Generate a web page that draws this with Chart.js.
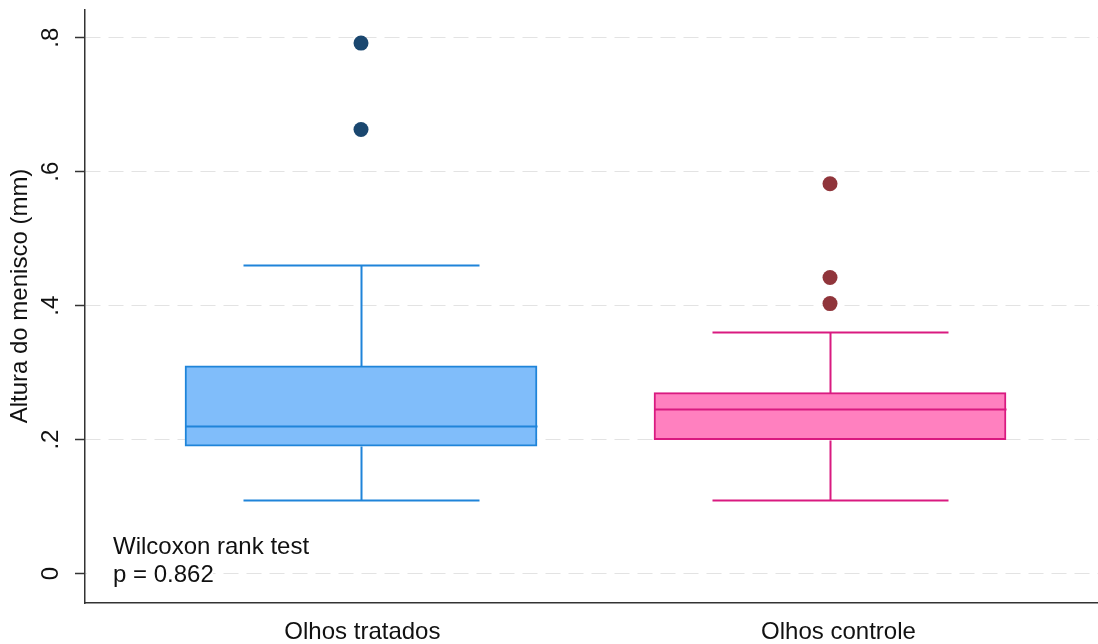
<!DOCTYPE html>
<html>
<head>
<meta charset="utf-8">
<script src="https://cdn.jsdelivr.net/npm/chart.js@4/dist/chart.umd.min.js"></script>
<style>
  html, body { margin: 0; padding: 0; background: #fff; }
  #wrap { width: 1098px; height: 644px; }
</style>
</head>
<body>
<div id="wrap"><canvas id="c" width="1098" height="644"></canvas></div>
<script>
// Box-plot summary for each group (meniscus height, mm)
const groups = ['Olhos tratados', 'Olhos controle'];
const lowerWhisker = [0.11, 0.11];
const q1 = [0.19, 0.20];
const median = [0.22, 0.245];
const q3 = [0.31, 0.27];
const upperWhisker = [0.46, 0.36];
const outliersTratados = [0.792, 0.663];
const outliersControle = [0.582, 0.442, 0.403];
const yTicks = [0, 0.2, 0.4, 0.6, 0.8];
const yTickLabels = ['0', '.2', '.4', '.6', '.8'];
const yTitle = 'Altura do menisco (mm)';
const noteLines = ['Wilcoxon rank test', 'p = 0.862'];

const FONT = '"Liberation Sans", Arial, sans-serif';
const FONT_SIZE = 24;
const TEXT = '#111';
const lineColors = ['#1f84d9', '#d91a80'];
const fillColors = ['#80bdfa', '#ff80bf'];
const dotColors = ['#1a476f', '#90353b'];

const positions = groups.map((_, i) => i + 1);

// Whiskers, caps and median lines drawn on top of the boxes
const whiskerPlugin = {
  id: 'whiskers',
  afterDatasetsDraw(chart) {
    const { ctx, scales: { x, y } } = chart;
    const bars = chart.getDatasetMeta(0).data;
    const capHalf = 118;
    ctx.save();
    ctx.lineWidth = 2;
    groups.forEach((_, i) => {
      const cx = Math.round(x.getPixelForValue(positions[i])) + 0.5;
      const half = bars[i].width / 2;
      const py = v => Math.round(y.getPixelForValue(v)) + 0.5;
      ctx.strokeStyle = lineColors[i];
      ctx.beginPath();
      ctx.moveTo(cx, py(q3[i])); ctx.lineTo(cx, py(upperWhisker[i]));
      ctx.moveTo(cx, py(q1[i])); ctx.lineTo(cx, py(lowerWhisker[i]));
      ctx.moveTo(cx - capHalf, py(upperWhisker[i])); ctx.lineTo(cx + capHalf, py(upperWhisker[i]));
      ctx.moveTo(cx - capHalf, py(lowerWhisker[i])); ctx.lineTo(cx + capHalf, py(lowerWhisker[i]));
      ctx.moveTo(cx - half, py(median[i])); ctx.lineTo(cx + half, py(median[i]));
      ctx.stroke();
    });
    ctx.restore();
  }
};

// Rotated y tick labels, axis title and the test note
const textPlugin = {
  id: 'texts',
  afterDraw(chart) {
    const { ctx, chartArea, scales: { y } } = chart;
    ctx.save();
    ctx.font = FONT_SIZE + 'px ' + FONT;
    ctx.fillStyle = TEXT;
    ctx.textAlign = 'center';
    ctx.textBaseline = 'middle';
    // y tick labels, reading upwards
    yTicks.forEach((v, i) => {
      ctx.save();
      ctx.translate(51, y.getPixelForValue(v));
      ctx.rotate(-Math.PI / 2);
      ctx.fillText(yTickLabels[i], 0, 0);
      ctx.restore();
    });
    // y-axis title
    ctx.save();
    ctx.translate(20, 296);
    ctx.rotate(-Math.PI / 2);
    ctx.fillText(yTitle, 0, 0);
    ctx.restore();
    // note with a white backing over the zero grid line
    ctx.fillStyle = '#fff';
    ctx.fillRect(chartArea.left + 2, 560, 126, 28);
    ctx.fillStyle = TEXT;
    ctx.textAlign = 'left';
    ctx.textBaseline = 'alphabetic';
    ctx.fillText(noteLines[0], 113, 554);
    ctx.fillText(noteLines[1], 113, 582);
    ctx.restore();
  }
};

new Chart(document.getElementById('c'), {
  type: 'bar',
  data: {
    datasets: [
      {
        type: 'bar',
        data: groups.map((_, i) => ({ x: positions[i], y: [q1[i], q3[i]] })),
        backgroundColor: fillColors,
        borderColor: lineColors,
        borderWidth: 2,
        borderSkipped: false,
        barThickness: 352
      },
      {
        type: 'scatter',
        data: outliersTratados.map(v => ({ x: positions[0], y: v })),
        backgroundColor: dotColors[0],
        borderColor: dotColors[0],
        pointRadius: 7.5,
        borderWidth: 0
      },
      {
        type: 'scatter',
        data: outliersControle.map(v => ({ x: positions[1], y: v })),
        backgroundColor: dotColors[1],
        borderColor: dotColors[1],
        pointRadius: 7.5,
        borderWidth: 0
      }
    ]
  },
  options: {
    responsive: false,
    devicePixelRatio: 1,
    animation: false,
    layout: { autoPadding: false, padding: { top: 10, right: 0, left: 0, bottom: 0 } },
    plugins: { legend: { display: false }, tooltip: { enabled: false } },
    scales: {
      x: {
        type: 'linear',
        position: 'bottom',
        offset: false,
        min: 0.4115,
        max: 2.5714,
        grid: { display: false, drawTicks: false, offset: false },
        border: { display: true, color: '#333', width: 1.5 },
        afterBuildTicks: s => { s.ticks = [{ value: 1.003 }, { value: 2.018 }]; },
        afterFit: s => { s.height = 41; },
        ticks: {
          autoSkip: false,
          maxRotation: 0,
          padding: 15,
          color: TEXT,
          font: { family: FONT, size: FONT_SIZE },
          callback: (v, i) => groups[i]
        }
      },
      y: {
        type: 'linear',
        min: -0.044,
        max: 0.8414,
        afterBuildTicks: s => { s.ticks = yTicks.map(v => ({ value: v })); },
        afterFit: s => { s.width = 85; },
        grid: {
          color: '#e3e3e3',
          lineWidth: 1,
          drawTicks: true,
          tickLength: 10,
          tickColor: '#333',
          tickWidth: 1.5
        },
        border: { display: true, color: '#333', width: 1.5, dash: [15, 8] },
        ticks: { display: false },
        title: { display: false }
      }
    }
  },
  plugins: [whiskerPlugin, textPlugin]
});
</script>
</body>
</html>
